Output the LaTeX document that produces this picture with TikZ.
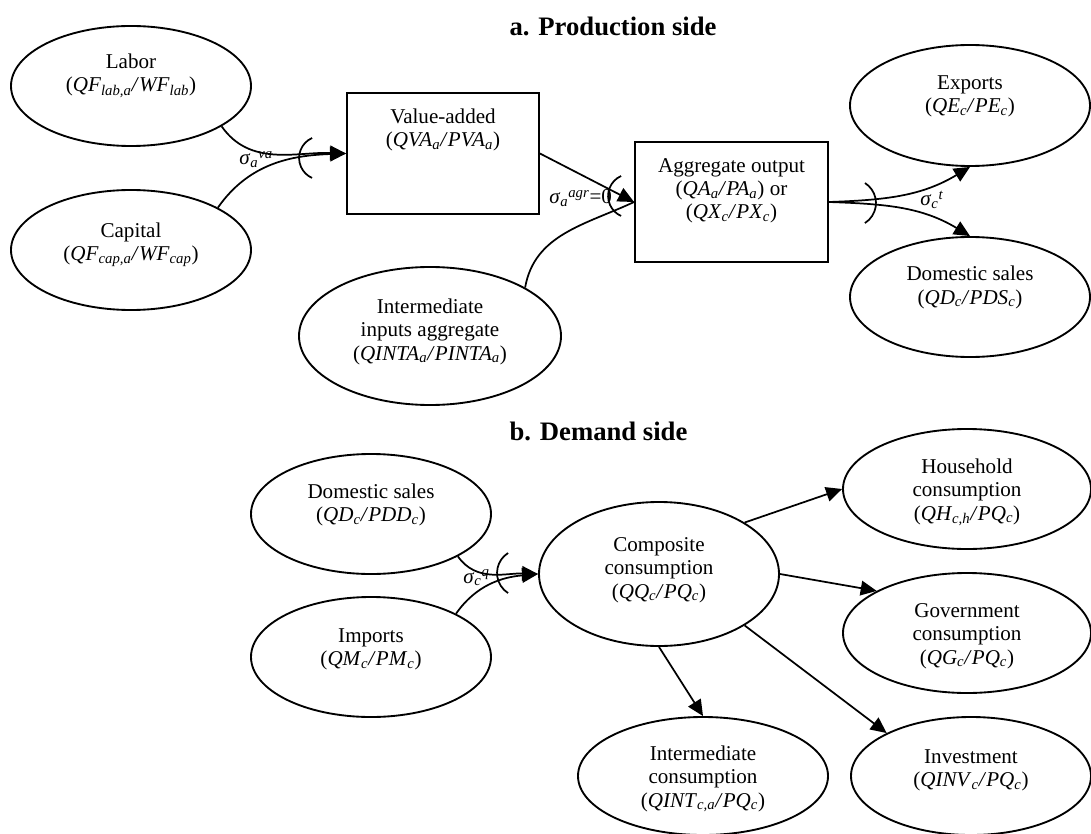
\documentclass[tikz,border=0pt]{standalone}
\usepackage{fontspec}
\setmainfont{Liberation Serif}
\usetikzlibrary{arrows.meta,shapes.geometric}
\newcommand{\vr}[2]{\textit{#1}\textsubscript{\textit{#2}}}
\newcommand{\dv}{\textit{/}}
\newcommand{\sg}[2]{\textit{σ}\textsubscript{\textit{#1}}\textsuperscript{\textit{#2}}}
\begin{document}
\begin{tikzpicture}[x=0.75pt,y=-0.75pt,
  every node/.style={font=\fontsize{15.8pt}{17.6pt}\selectfont},
  ell/.style={draw, ellipse, line width=1.4pt, inner sep=0pt},
  box/.style={draw, rectangle, line width=1.4pt, inner sep=0pt},
  txt/.style={align=center, inner sep=0pt, anchor=base},
  ttl/.style={font=\fontsize{20pt}{24pt}\selectfont\bfseries, inner sep=0pt, anchor=base},
  sig/.style={inner sep=0pt, anchor=base west},
  arr/.style={line width=1.3pt, -{Triangle[length=12pt,width=11pt]}},
  ln/.style={line width=1.3pt},
  mk/.style={line width=1.3pt}
]
\useasboundingbox (0,0) rectangle (1091,834);

% ---------- a. Production side ----------
\node[ttl] (ta) at (613,36) {a. Production side};

\node[ell, minimum width=180pt, minimum height=90pt] (labor) at (131,86) {};
\node[txt] (labor-t) at (131,92) {Labor\\(\vr{QF}{lab,a}\dv\vr{WF}{lab})};

\node[ell, minimum width=180pt, minimum height=90pt] (capital) at (131,250) {};
\node[txt] (capital-t) at (131,260.5) {Capital\\(\vr{QF}{cap,a}\dv\vr{WF}{cap})};

\node[box, minimum width=144pt, minimum height=90.75pt] (va) at (443,153.5) {};
\node[txt] (va-t) at (443,146.5) {Value-added\\(\vr{QVA}{a}\dv\vr{PVA}{a})};

\node[ell, minimum width=196.5pt, minimum height=103.5pt] (intin) at (430,336) {};
\node[txt] (intin-t) at (430,360) {Intermediate\\inputs aggregate\\(\vr{QINTA}{a}\dv\vr{PINTA}{a})};

\node[box, minimum width=144.75pt, minimum height=90pt] (agg) at (731.5,202) {};
\node[txt] (agg-t) at (731.5,219) {Aggregate output\\(\vr{QA}{a}\dv\vr{PA}{a}) or\\(\vr{QX}{c}\dv\vr{PX}{c})};

\node[ell, minimum width=180pt, minimum height=90.75pt] (exp) at (970,105.5) {};
\node[txt] (exp-t) at (970,112.5) {Exports\\(\vr{QE}{c}\dv\vr{PE}{c})};

\node[ell, minimum width=180pt, minimum height=90pt] (dom) at (970,297) {};
\node[txt] (dom-t) at (970,304) {Domestic sales\\(\vr{QD}{c}\dv\vr{PDS}{c})};

% connectors production
\draw[arr] (labor.-24.6) to[out=-55,in=178] (va.west);
\draw[arr] (capital.26.6) to[out=55,in=182] (va.west);
\draw[mk] ([shift={(-34,-15.5)}]va.west) arc[start angle=114,end angle=246,radius=16.4pt];
\node[sig] (sva) at (239,165) {\sg{a}{va}};

\draw[arr] (va.east) -- (agg.west);
\draw[ln] (intin.27) to[out=80,in=205] (agg.west);
\draw[mk] ([shift={(-13,-26)}]agg.west) arc[start angle=114,end angle=246,radius=16.4pt];
\node[sig] (sagr) at (549,204) {\sg{a}{agr}=0};

\draw[arr] (agg.east) to[out=2,in=211] (exp.south);
\draw[arr] (agg.east) to[out=-2,in=149] (dom.north);
\draw[mk] ([shift={(36,-19)}]agg.east) arc[start angle=57.6,end angle=-57.6,radius=17.8pt];
\node[sig] (st) at (920,206) {\sg{c}{t}};

% ---------- b. Demand side ----------
\node[ttl] (tb) at (598.5,440) {b. Demand side};

\node[ell, minimum width=180pt, minimum height=90pt] (ds) at (371,514) {};
\node[txt] (ds-t) at (371,521.5) {Domestic sales\\(\vr{QD}{c}\dv\vr{PDD}{c})};

\node[ell, minimum width=180pt, minimum height=90pt] (imp) at (371,657) {};
\node[txt] (imp-t) at (371,665.5) {Imports\\(\vr{QM}{c}\dv\vr{PM}{c})};

\node[ell, minimum width=180pt, minimum height=108pt] (comp) at (659,574) {};
\node[txt] (comp-t) at (659,598) {Composite\\consumption\\(\vr{QQ}{c}\dv\vr{PQ}{c})};

\node[ell, minimum width=186pt, minimum height=90pt] (hh) at (967,489) {};
\node[txt] (hh-t) at (967,520) {Household\\consumption\\(\vr{QH}{c,h}\dv\vr{PQ}{c})};

\node[ell, minimum width=186pt, minimum height=90pt] (gov) at (967,633) {};
\node[txt] (gov-t) at (967,664) {Government\\consumption\\(\vr{QG}{c}\dv\vr{PQ}{c})};

\node[ell, minimum width=187.5pt, minimum height=88.5pt] (intc) at (703,776) {};
\node[txt] (intc-t) at (703,807) {Intermediate\\consumption\\(\vr{QINT}{c,a}\dv\vr{PQ}{c})};

\node[ell, minimum width=180pt, minimum height=88.5pt] (inv) at (971,776) {};
\node[txt] (inv-t) at (971,786.5) {Investment\\(\vr{QINV}{c}\dv\vr{PQ}{c})};

% connectors demand
\draw[arr] (ds.-26.8) to[out=-55,in=178] (comp.west);
\draw[arr] (imp.27.4) to[out=55,in=185] (comp.west);
\draw[mk] ([shift={(-30,-21)}]comp.west) arc[start angle=122.4,end angle=237.6,radius=17.8pt];
\node[sig] (sq) at (463,583) {\sg{c}{q}};

\draw[arr] (comp.31.5) -- (hh.west);
\draw[arr] (comp.east) -- (gov.155);
\draw[arr] (comp.south) -- (intc.north);
\draw[arr] (comp.-31.5) -- (inv.153.4);
\end{tikzpicture}
\end{document}
